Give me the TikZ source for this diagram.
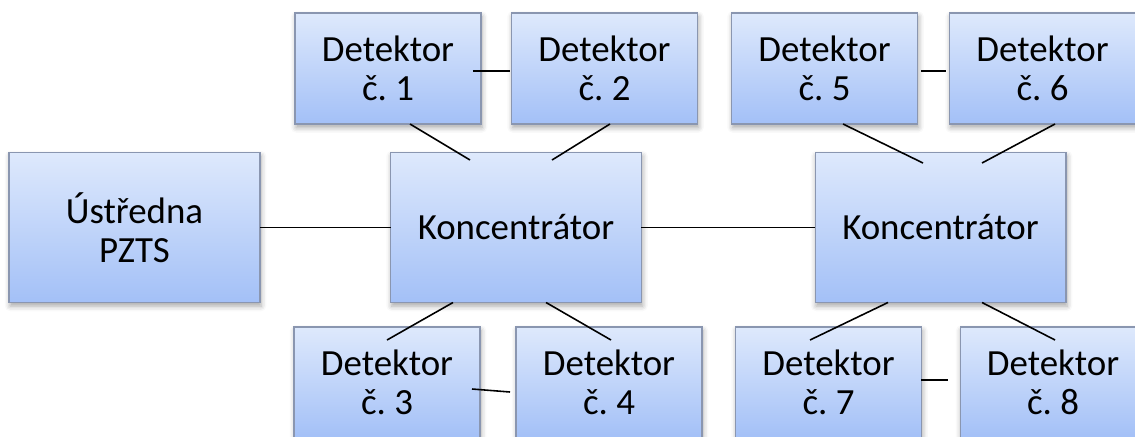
\documentclass[tikz,border=0pt]{standalone}
\usepackage{fontspec}
\setmainfont{Carlito}
\usetikzlibrary{calc,shadows.blur}
\frenchspacing

\definecolor{boxtop}{RGB}{222,233,252}
\definecolor{boxbot}{RGB}{163,192,247}
\definecolor{boxline}{RGB}{138,150,176}

\tikzset{
  blok/.style={rectangle,draw=boxline,line width=.6pt,top color=boxtop,bottom color=boxbot,
    inner sep=0pt,outer sep=0pt,align=center,
    font=\fontsize{21}{22.2}\selectfont,
    blur shadow={shadow xshift=.6pt,shadow yshift=-2pt,shadow blur radius=3pt,shadow opacity=35}},
  det/.style={blok,minimum width=3.72cm,minimum height=2.22cm},
  velky/.style={blok,minimum width=5.02cm,minimum height=3cm},
  spoj/.style={line width=.9pt}
}

\begin{document}
\begin{tikzpicture}[x=.02cm,y=-.02cm]
\useasboundingbox (0,0) rectangle (1135,436);

% centrala a koncentratory
\node[velky] (ust) at (134.5,227.5) {Ústředna\\PZTS};
\node[velky] (k1) at (516,227.5) {Koncentrátor};
\node[velky] (k2) at (940.5,227.5) {Koncentrátor};

% detektory nahore
\node[det] (d1) at (388,68.5) {Detektor\\č. 1};
\node[det] (d2) at (604.5,68.5) {Detektor\\č. 2};
\node[det] (d5) at (824.5,68.5) {Detektor\\č. 5};
\node[det] (d6) at (1042.5,68.5) {Detektor\\č. 6};

% detektory dole
\node[det] (d3) at (387,382.5) {Detektor\\č. 3};
\node[det] (d4) at (609,382.5) {Detektor\\č. 4};
\node[det] (d7) at (828.5,382.5) {Detektor\\č. 7};
\node[det] (d8) at (1053,382.5) {Detektor\\č. 8};

\draw[spoj] (ust) -- (k1);
\draw[spoj] (k1) -- (k2);

\draw[spoj] ($(d1.east)+(-8,2.5)$) -- ($(d2.west)+(-2,2.5)$);
\draw[spoj] ($(d3.east)+(-8,6.5)$) -- ($(d4.west)+(-6,9.5)$);
\draw[spoj] ($(d5.east)+(4,2.5)$) -- ($(d6.west)+(-4,2.5)$);
\draw[spoj] ($(d7.east)+(0,-2.5)$) -- ($(d8.west)+(-12,-2.5)$);

\draw[spoj] ($(d1.south)+(22,0)$) -- ($(k1.north)+(-46,7.5)$);
\draw[spoj] ($(d2.south)+(5.5,0)$) -- ($(k1.north)+(36,7.5)$);
\draw[spoj] ($(k1.south)+(-63,0)$) -- ($(d3.north)+(0,13)$);
\draw[spoj] ($(k1.south)+(30,0)$) -- ($(d4.north)+(2,13)$);

\draw[spoj] ($(d5.south)+(18.5,0)$) -- ($(k2.north)+(-17.5,10.5)$);
\draw[spoj] ($(d6.south)+(12.5,0)$) -- ($(k2.north)+(41.5,10.5)$);
\draw[spoj] ($(k2.south)+(-52.5,0)$) -- ($(d7.north)+(-18.5,13)$);
\draw[spoj] ($(k2.south)+(41.5,0)$) -- ($(d8.north)+(2,13)$);

\end{tikzpicture}
\end{document}
